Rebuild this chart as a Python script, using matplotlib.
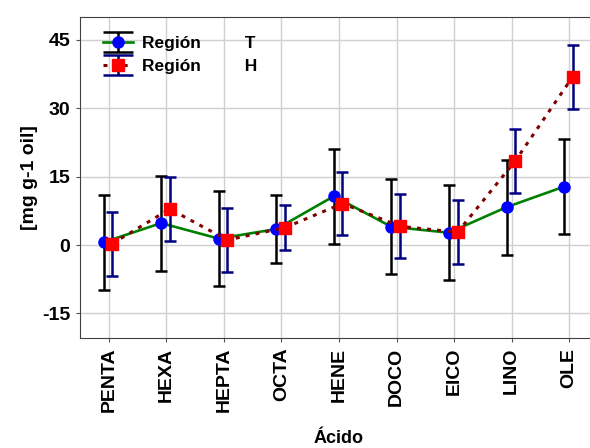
import numpy as np
import matplotlib.pyplot as plt
from matplotlib.path import Path
from matplotlib.lines import Line2D
from matplotlib.legend_handler import HandlerTuple

# datos
acidos = ["PENTA", "HEXA", "HEPTA", "OCTA", "HENE", "DOCO", "EICO", "LINO", "OLE"]
media_T = [0.6, 4.8, 1.4, 3.5, 10.7, 4.0, 2.7, 8.3, 12.8]
err_T = [10.4, 10.4, 10.4, 7.4, 10.4, 10.4, 10.4, 10.4, 10.4]
media_H = [0.3, 7.9, 1.1, 3.8, 9.1, 4.1, 2.8, 18.4, 36.9]
err_H = [7.0, 7.0, 7.0, 5.0, 7.0, 7.0, 7.0, 7.1, 7.0]

plt.rcParams['font.family'] = ['Liberation Sans', 'DejaVu Sans']
plt.rcParams['font.weight'] = 'bold'
plt.rcParams['axes.unicode_minus'] = False

fig = plt.figure(figsize=(5.9, 4.48), dpi=100)
ax = fig.add_axes([0.1356, 0.2455, 0.878, 0.7165])

x = np.arange(len(acidos))
punteado = (0, (1.3, 2.0))

ax.errorbar(x - 0.09, media_T, yerr=err_T, color="green", lw=1.9,
            marker="o", markersize=8, markerfacecolor="blue", markeredgecolor="blue",
            ecolor="black", elinewidth=1.8, capsize=4, capthick=1.8, zorder=3)
ax.errorbar(x + 0.06, media_H, yerr=err_H, color="#800000", lw=2.2,
            linestyle=punteado,
            marker="s", markersize=8.5, markerfacecolor="red", markeredgecolor="red",
            ecolor="#000080", elinewidth=1.8, capsize=4, capthick=1.8, zorder=4)

ax.set_xlim(-0.5, 8.5)
ax.set_ylim(-20.4, 50)
ax.set_yticks([-15, 0, 15, 30, 45])
ax.set_xticks(x)
ax.set_xticklabels(acidos, rotation=90, fontsize=14, fontweight="bold")
ax.tick_params(axis='y', labelsize=14, length=3, color="#555555", pad=4)
ax.tick_params(axis='x', length=3, color="#555555", pad=4)
ax.grid(True, color="#d0d0d0", linewidth=1)
ax.set_axisbelow(True)
for s in ax.spines.values():
    s.set_color("#404040")

ax.set_ylabel("[mg g-1 oil]", fontsize=14, fontweight="bold", labelpad=3)
ax.set_xlabel("Ácido", fontsize=13, fontweight="bold", labelpad=13)

# leyenda con barras de error anchas (forma de "I")
barra = Path([(-1.4, 1), (1.4, 1), (0, 1), (0, -1), (-1.4, -1), (1.4, -1)],
             [Path.MOVETO, Path.LINETO, Path.MOVETO, Path.LINETO, Path.MOVETO, Path.LINETO])
h_T = (Line2D([], [], ls="none", marker=barra, markersize=21, markeredgewidth=1.8,
              markeredgecolor="black", markerfacecolor="none"),
       Line2D([], [], color="green", lw=1.9, marker="o", markersize=8,
              markerfacecolor="blue", markeredgecolor="blue"))
h_H = (Line2D([], [], ls="none", marker=barra, markersize=21, markeredgewidth=1.8,
              markeredgecolor="#000080", markerfacecolor="none"),
       Line2D([], [], color="#800000", lw=2.2, ls=punteado, marker="s", markersize=8.5,
              markerfacecolor="red", markeredgecolor="red"))
ax.legend([h_T, h_H], ["Región" + " " * 9 + "T", "Región" + " " * 9 + "H"],
          handler_map={tuple: HandlerTuple(ndivide=1)},
          loc="upper left", bbox_to_anchor=(0.044, 0.94), borderaxespad=0, borderpad=0,
          frameon=False, fontsize=12.5, handlelength=1.75, handletextpad=0.5,
          labelspacing=0.42, numpoints=1)

fig.savefig("out.png", dpi=100)
